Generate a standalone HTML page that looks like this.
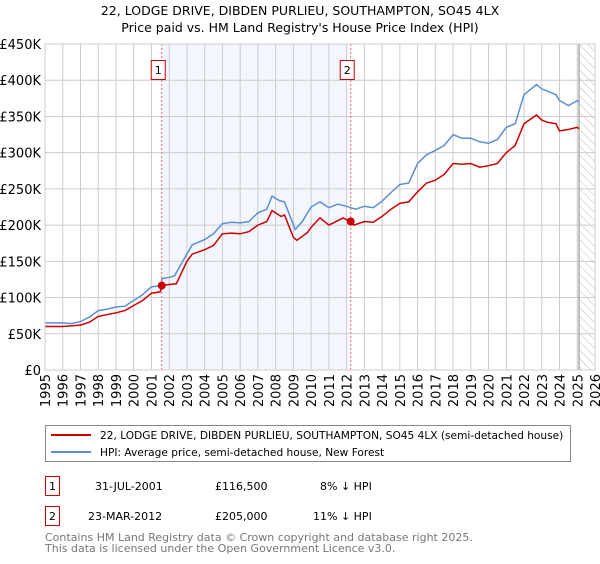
<!DOCTYPE html>
<html><head><meta charset="utf-8"><style>
body{margin:0;background:#fff;font-family:"DejaVu Sans","Liberation Sans",sans-serif;}
svg text{font-family:"DejaVu Sans","Liberation Sans",sans-serif;}
</style></head><body>
<svg id="chart" width="600" height="560" viewBox="0 0 600 560" xmlns="http://www.w3.org/2000/svg">
<defs><pattern id="hatch" width="6" height="6" patternUnits="userSpaceOnUse" patternTransform="rotate(-45)"><line x1="0" y1="0" x2="0" y2="6" stroke="#bbb" stroke-width="1"/></pattern></defs>
<text x="300" y="15" text-anchor="middle" font-size="12.5">22, LODGE DRIVE, DIBDEN PURLIEU, SOUTHAMPTON, SO45 4LX</text>
<text x="300" y="32" text-anchor="middle" font-size="12.5">Price paid vs. HM Land Registry's House Price Index (HPI)</text>
<g id="plot"></g>
<g>
<rect x="45.5" y="425.5" width="525" height="36" fill="#fff" stroke="#888"/>
<line x1="51" y1="435" x2="91" y2="435" stroke="#cc0000" stroke-width="2"/>
<text x="100" y="439" font-size="10.6">22, LODGE DRIVE, DIBDEN PURLIEU, SOUTHAMPTON, SO45 4LX (semi-detached house)</text>
<line x1="51" y1="452" x2="91" y2="452" stroke="#5b8fd0" stroke-width="2"/>
<text x="100" y="456" font-size="10.6">HPI: Average price, semi-detached house, New Forest</text>
</g>
<g font-size="11">
<rect x="45.5" y="476.5" width="14" height="19" fill="#fff" stroke="#cc0000"/>
<text x="52.5" y="490" text-anchor="middle">1</text>
<text x="95" y="490">31-JUL-2001</text><text x="215" y="490">£116,500</text><text x="320" y="490">8% ↓ HPI</text>
<rect x="45.5" y="506.5" width="14" height="19" fill="#fff" stroke="#cc0000"/>
<text x="52.5" y="520" text-anchor="middle">2</text>
<text x="88" y="520">23-MAR-2012</text><text x="215" y="520">£205,000</text><text x="313" y="520">11% ↓ HPI</text>
</g>
<text x="45" y="541" font-size="11" fill="#777">Contains HM Land Registry data © Crown copyright and database right 2025.</text>
<text x="45" y="552" font-size="11" fill="#777">This data is licensed under the Open Government Licence v3.0.</text>
</svg>
<script>
const hpiYears=[1995,1996,1996.5,1997,1997.5,1998,1998.5,1999,1999.5,2000,2000.5,2001,2001.5,2001.6,2002,2002.3,2003,2003.3,2004,2004.5,2005,2005.5,2006,2006.5,2007,2007.5,2007.8,2008.2,2008.5,2009.1,2009.5,2010,2010.5,2011,2011.5,2012,2012.5,2013,2013.5,2014,2014.5,2015,2015.5,2016,2016.5,2017,2017.5,2018,2018.5,2019,2019.5,2020,2020.5,2021,2021.5,2022,2022.7,2023,2023.3,2023.8,2024,2024.5,2025,2025.1];
const hpiValues=[65,65,64,67,73,82,84,87,88,96,104,115,116,126,128,130,160,173,180,188,202,204,203,205,217,222,240,234,232,194,205,225,232,224,229,226,222,226,224,233,245,256,258,285,297,303,310,325,320,320,315,313,318,335,340,380,394,388,385,380,372,365,372,370];
const redYears=[1995,1996,1997,1997.5,1998,1999,1999.5,2000,2000.5,2001,2001.5,2001.58,2002,2002.4,2003,2003.3,2004,2004.5,2005,2005.5,2006,2006.5,2007,2007.5,2007.8,2008.3,2008.5,2009,2009.2,2009.8,2010,2010.5,2011,2011.8,2012.23,2012.4,2013,2013.5,2014,2014.5,2015,2015.5,2016,2016.5,2017,2017.5,2018,2018.5,2019,2019.5,2020,2020.5,2021,2021.5,2022,2022.7,2023,2023.3,2023.8,2024,2024.5,2025,2025.1];
const redValues=[60,60,62,66,74,79,82,89,96,106,108,116.5,118,119,150,160,166,172,188,189,188,191,200,205,220,212,214,183,179,190,197,210,200,210,205,200,205,204,212,222,230,232,246,258,262,270,285,284,285,280,282,285,300,310,340,352,345,342,340,330,332,335,333];
const saleYears=[2001.58,2012.23];
const saleValues=[116.5,205];
const saleLabels=["1","2"];
const yTicks=[0,50,100,150,200,250,300,350,400,450];
const yTickLabels=["£0","£50K","£100K","£150K","£200K","£250K","£300K","£350K","£400K","£450K"];
const xTicks=[1995,1996,1997,1998,1999,2000,2001,2002,2003,2004,2005,2006,2007,2008,2009,2010,2011,2012,2013,2014,2015,2016,2017,2018,2019,2020,2021,2022,2023,2024,2025,2026];
const NS="http://www.w3.org/2000/svg";
const L=45,R=595,T=44,B=370;
const xs=y=>L+(y-1995)/(2026-1995)*(R-L);
const ys=v=>B-v/450*(B-T);
const g=document.getElementById('plot');
function mk(tag,attrs,parent){const e=document.createElementNS(NS,tag);for(const k in attrs)e.setAttribute(k,attrs[k]);(parent||g).appendChild(e);return e;}
let e=mk('rect',{x:xs(2001.58),y:T,width:xs(2012.0)-xs(2001.58),height:B-T,fill:'#eef3fc',opacity:0.7});


e=mk('rect',{x:xs(2025.1),y:T,width:R-xs(2025.1),height:B-T,fill:'url(#hatch)'});


yTicks.forEach((v,i)=>{
 let l=mk('line',{x1:L,x2:R,y1:ys(v),y2:ys(v),stroke:'#ccc'});
 
 
 let t=mk('text',{x:L-4,y:ys(v)+5,'text-anchor':'end','font-size':13});
 
 
 t.textContent=yTickLabels[i];
});
xTicks.forEach(y=>{
 let l=mk('line',{x1:xs(y),x2:xs(y),y1:T,y2:B,stroke:'#ccc'});
 
 
 let t=mk('text',{x:0,y:0,'text-anchor':'end','font-size':13,transform:`translate(${xs(y)+5},374) rotate(-90)`});
 
 
 t.textContent=y;
});
e=mk('line',{x1:xs(2025.1),x2:xs(2025.1),y1:T,y2:B,stroke:'#888'});


function path(xa,va,col,name){
 const d=xa.map((y,i)=>(i?'L':'M')+xs(y).toFixed(1)+','+ys(va[i]).toFixed(1)).join('');
 const p=mk('path',{d:d,fill:'none',stroke:col,'stroke-width':1.5});
 
 
}
path(hpiYears,hpiValues,'#5b8fd0','hpi-line');
path(redYears,redValues,'#cc0000','price-paid-line');
saleYears.forEach((y,i)=>{
 let l=mk('line',{x1:xs(y),x2:xs(y),y1:T,y2:B,stroke:'#e66','stroke-dasharray':'2,2'});
 
 
 let c=mk('circle',{cx:xs(y),cy:ys(saleValues[i]),r:4,fill:'#cc0000'});
 
 
 let r=mk('rect',{x:xs(y)-10.5,y:60.5,width:14,height:19,fill:'#fff',stroke:'#cc0000'});
 
 
 let t=mk('text',{x:xs(y)-3.5,y:74,'text-anchor':'middle','font-size':11});
 
 
 t.textContent=saleLabels[i];
});
e=mk('rect',{x:L,y:T,width:R-L,height:B-T,fill:'none',stroke:'#ccc'});


</script>
</body></html>
